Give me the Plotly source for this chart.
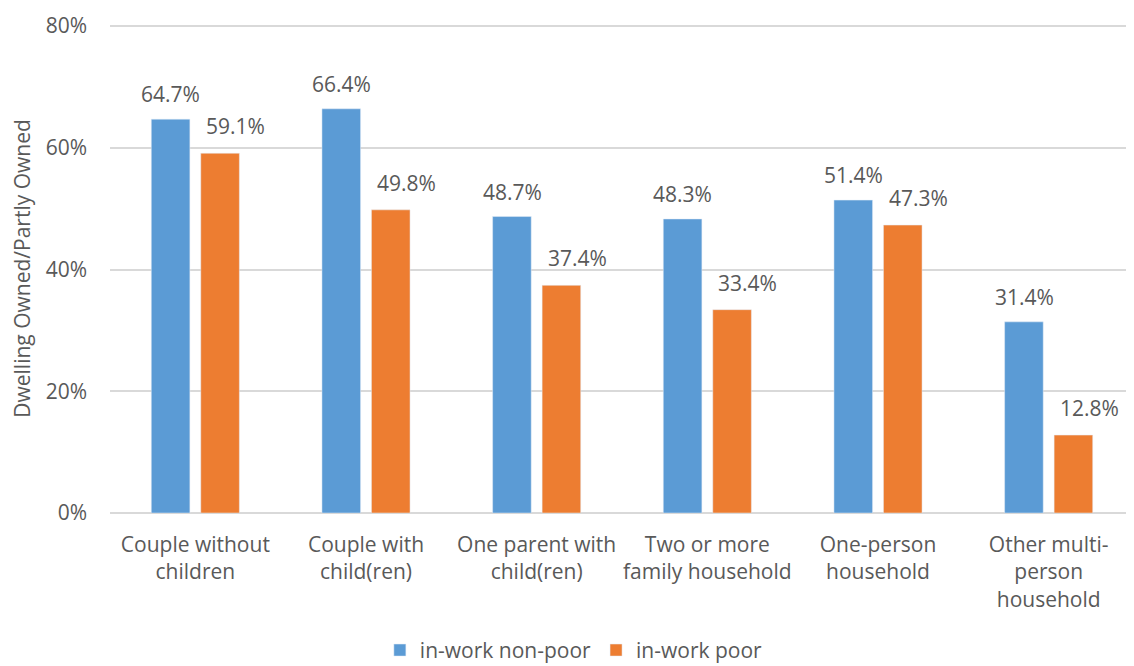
import plotly.graph_objects as go

categories = ["Couple without<br>children", "Couple with<br>child(ren)", "One parent with<br>child(ren)",
              "Two or more<br>family household", "One-person<br>household", "Other multi-<br>person<br>household"]
non_poor = [64.7, 66.4, 48.7, 48.3, 51.4, 31.4]
poor = [59.1, 49.8, 37.4, 33.4, 47.3, 12.8]
y_ticks = [0, 20, 40, 60, 80]
y_tick_labels = ["0%", "20%", "40%", "60%", "80%"]

font_family = "Open Sans, Noto Sans, sans-serif"
grey = "#595959"
fs = 21

fig = go.Figure()
fig.add_trace(go.Bar(x=categories, y=non_poor, name="in-work non-poor", marker=dict(color="#5B9BD5")))
fig.add_trace(go.Bar(x=categories, y=poor, name="in-work poor", marker=dict(color="#ED7D31")))

# data labels as annotations above each bar
slot_px = 24.5
for series, xs, ys in ((non_poor, -slot_px, 25), (poor, slot_px + 16, 27)):
    for c, v in zip(categories, series):
        fig.add_annotation(x=c, y=v, xref="x", yref="y", text=f"{v:.1f}%", showarrow=False,
                           xshift=xs, yshift=ys, yanchor="middle",
                           font=dict(size=fs, color=grey, family=font_family))

# page has an 8px body margin; figure sized to fit the visible window
fig.update_layout(
    width=1126, height=658,
    margin=dict(l=102, r=0, t=16, b=153, autoexpand=False),
    paper_bgcolor="white", plot_bgcolor="white",
    barmode="group", bargap=0.42, bargroupgap=0.22,
    font=dict(family=font_family, color=grey, size=fs),
    showlegend=True,
    legend=dict(orientation="h", x=0.453, xanchor="center", y=-0.281, yanchor="middle",
                font=dict(size=fs, color=grey), tracegroupgap=0),
)
fig.update_xaxes(showgrid=False, showline=False, ticks="", automargin=False,
                 ticklabelstandoff=17, tickfont=dict(size=fs, color=grey))
fig.update_yaxes(range=[0, 80.33], tickvals=y_ticks, ticktext=y_tick_labels,
                 showgrid=True, gridcolor="#D9D9D9", gridwidth=1.5,
                 zeroline=True, zerolinecolor="#D9D9D9", zerolinewidth=1.5,
                 showline=False, ticks="", automargin=False, ticklabelstandoff=22,
                 tickfont=dict(size=fs, color=grey),
                 title=dict(text="Dwelling Owned/Partly Owned", font=dict(size=fs, color=grey), standoff=11))

fig.write_html("out.html")
